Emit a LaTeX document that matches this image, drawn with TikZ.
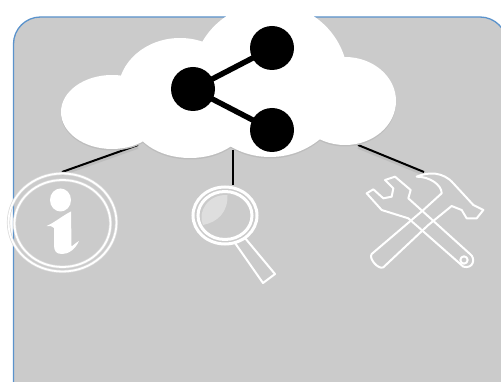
\documentclass[tikz,border=0pt]{standalone}
\definecolor{panelgray}{HTML}{CBCBCB}
\definecolor{panelblue}{HTML}{5B93CC}
\definecolor{shadegray}{HTML}{BDBDBD}
\definecolor{glassgray}{HTML}{DEDEDE}
\definecolor{halogray}{HTML}{DADADA}
\tikzset{
  panel/.style={fill=panelgray,draw=panelblue,line width=1.3pt,rounded corners=27pt},
  link/.style={draw=black,line width=2pt},
  linkshade/.style={draw=shadegray,line width=2.5pt},
  shareline/.style={draw=black,line width=5.5pt},
  sharedot/.style={circle,fill=black,minimum size=44pt,inner sep=0pt},
  iconline/.style={draw=white,line width=2pt,line join=round},
  ringhalo/.style={draw=halogray,line width=3.2pt},
  ringline/.style={draw=white,line width=1.8pt},
}
\newcommand{\cloudlobes}{
  \fill (112,112) ellipse [x radius=51,y radius=37];
  \fill (180,92) ellipse [x radius=62,y radius=54];
  \fill (190,118) ellipse [x radius=58,y radius=40];
  \fill (270,80) ellipse [x radius=78,y radius=77];
  \fill (345,101) ellipse [x radius=51,y radius=44];
}
\begin{document}
\begin{tikzpicture}[x=1pt,y=-1pt]
\useasboundingbox (0,0) rectangle (501,382);
\begin{scope}
\clip (0,0) rectangle (501,382);
\draw[panel] (13.5,440) -- (13.5,17) -- (507,17) -- (507,440) -- cycle;
\end{scope}
\coordinate (infotop) at (62,172);
\coordinate (lensTop) at (233,185);
\coordinate (toolTop) at (424,172);
\coordinate (cloudL) at (138,145);
\coordinate (cloudM) at (233,150);
\coordinate (cloudR) at (358,145);
% connector shadows and connectors
\draw[linkshade] ([yshift=-2.5pt]cloudL) -- ([yshift=-2.5pt]infotop);
\draw[linkshade] ([yshift=-2.5pt]cloudR) -- ([yshift=-2.5pt]toolTop);
\draw[link] (cloudL) -- (infotop);
\draw[link] (cloudM) -- (lensTop);
\draw[link] (cloudR) -- (toolTop);
% cloud
\begin{scope}[shift={(0,1.5)},shadegray]
\cloudlobes
\end{scope}
\begin{scope}[white]
\cloudlobes
\end{scope}
% share symbol
\node[sharedot] (hub) at (193,89) {};
\node[sharedot] (up) at (272,48) {};
\node[sharedot] (down) at (272,130) {};
\draw[shareline] (hub.center) -- (up.center);
\draw[shareline] (hub.center) -- (down.center);
% info icon
\draw[ringhalo] (62.5,222.5) ellipse [x radius=54,y radius=49];
\draw[ringhalo] (62.5,223.5) ellipse [x radius=48,y radius=43.5];
\draw[ringline] (62.5,222.5) ellipse [x radius=54,y radius=49];
\draw[ringline] (62.5,223.5) ellipse [x radius=48,y radius=43.5];
\fill[white] (60.5,200) ellipse [x radius=10.5,y radius=11.5];
\fill[white] (46.5,226) .. controls (54,223) and (62,216) .. (71,211.5)
  -- (71.5,246) .. controls (72,247) and (75,243) .. (79,241)
  .. controls (75,250) and (68,254) .. (62,254)
  .. controls (56,254) and (54,251) .. (54,245)
  -- (54,228) .. controls (53,226) and (50,226) .. (46.5,226) -- cycle;
% magnifier
\fill[glassgray] (227.5,195) .. controls (228,212) and (218,222) .. (203,225)
  .. controls (197,212) and (208,194) .. (227.5,195) -- cycle;
\draw[white,line width=3pt] (225,215.5) ellipse [x radius=32,y radius=28.5];
\draw[white,line width=3pt] (225,215.5) ellipse [x radius=27,y radius=24];
\draw[iconline] (235,243) -- (245,238) -- (275,274) -- (263,283) -- cycle;
% tools
\begin{scope}[shift={(340,130)},scale=1/3]
\draw[iconline] (135,150) -- (165,140) -- (212,180) -- (205,205) -- (390,372)
  .. controls (408,385) and (400,418) .. (370,410)
  -- (205,265) -- (125,240) -- (80,190) -- (100,178) -- (130,205)
  -- (155,200) -- (160,175) -- cycle;
\draw[iconline] (230,140) .. controls (265,125) and (310,125) .. (340,160)
  -- (400,225) -- (430,240) -- (410,265) -- (380,265) -- (365,240) -- (335,228)
  -- (265,285) -- (130,412) .. controls (115,420) and (85,385) .. (95,372)
  -- (250,240) -- (305,190) .. controls (305,165) and (270,140) .. (230,140) -- cycle;
\draw[iconline] (372,390) circle [radius=11];
\end{scope}
\end{tikzpicture}
\end{document}
